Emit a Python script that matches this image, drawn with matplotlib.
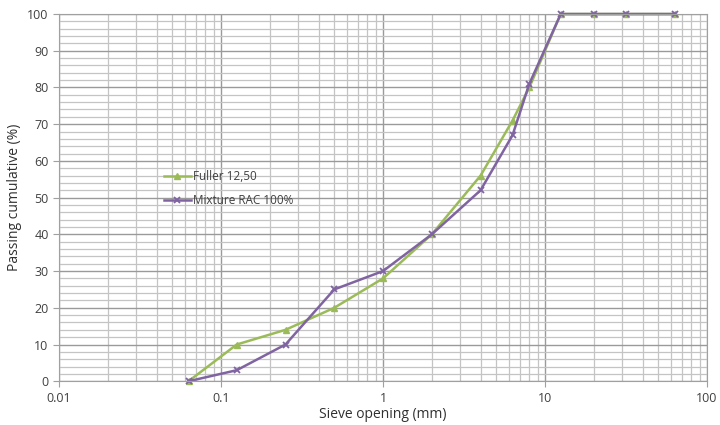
import numpy as np
import matplotlib.pyplot as plt
from matplotlib.ticker import LogLocator, FixedLocator, NullFormatter

# Données granulométriques
sieve = [0.063, 0.125, 0.25, 0.5, 1, 2, 4, 6.3, 8, 12.5, 20, 31.5, 63]
fuller = [0, 10, 14, 20, 28, 40, 56, 71, 80, 100, 100, 100, 100]
mixture = [0, 3, 10, 25, 30, 40, 52, 67, 81, 100, 100, 100, 100]

plt.rcParams['font.family'] = ['Open Sans', 'DejaVu Sans']

fig = plt.figure(figsize=(7.2, 4.25), dpi=100)
ax = fig.add_axes([0.082, 0.103, 0.9, 0.864])

ax.set_xscale('log')
ax.set_xlim(0.01, 100)
ax.set_ylim(0, 100)

# grilles
ax.xaxis.set_major_locator(LogLocator(base=10, numticks=10))
ax.xaxis.set_minor_locator(LogLocator(base=10, subs=np.arange(2, 10), numticks=10))
ax.xaxis.set_minor_formatter(NullFormatter())
ax.yaxis.set_major_locator(FixedLocator(np.arange(0, 101, 10)))
ax.yaxis.set_minor_locator(FixedLocator(np.arange(0, 101, 2)))
ax.grid(which='major', color='#9a9a9a', linewidth=1.0)
ax.grid(which='minor', color='#c4c4c4', linewidth=0.9)
ax.set_axisbelow(True)

ax.set_xticks([0.01, 0.1, 1, 10, 100])
ax.set_xticklabels(['0.01', '0.1', '1', '10', '100'])

for s in ax.spines.values():
    s.set_color('#a0a0a0')
ax.tick_params(which='major', length=4, color='#a0a0a0', labelsize=9, labelcolor='#404040')
ax.tick_params(which='minor', length=0)

ax.plot(sieve, fuller, color='#9BBB59', linewidth=1.8, marker='^', markersize=5,
        label='Fuller 12,50', clip_on=False)
ax.plot(sieve, mixture, color='#8064A2', linewidth=1.8, marker='x', markersize=5,
        markeredgewidth=1.3, label='Mixture RAC 100%', clip_on=False)

ax.set_xlabel('Sieve opening (mm)', fontsize=10, color='#303030', labelpad=2)
ax.set_ylabel('Passing cumulative (%)', fontsize=10, color='#303030', labelpad=4)

leg = ax.legend(loc='upper left', bbox_to_anchor=(0.145, 0.605), frameon=False,
                fontsize=8.5, handlelength=2.3, handletextpad=0.15, labelspacing=0.95)
for t in leg.get_texts():
    t.set_color('#404040')

fig.savefig('out.png', dpi=100)
